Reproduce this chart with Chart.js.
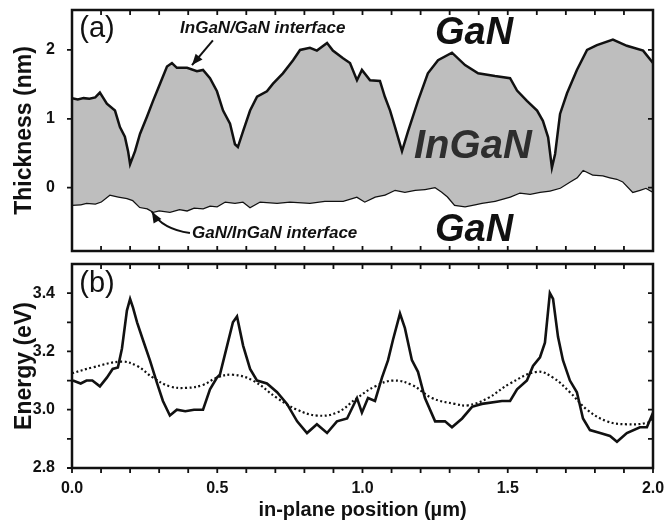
<!DOCTYPE html>
<html>
<head>
<meta charset="utf-8">
<script src="https://cdn.jsdelivr.net/npm/chart.js@4.4.1/dist/chart.umd.min.js"></script>
<style>
  html, body { margin: 0; padding: 0; background: #fff; }
  #wrap { position: relative; width: 668px; height: 522px; }
  #chartA { position: absolute; left: 0; top: 0; }
  #chartB { position: absolute; left: 0; top: 258px; }
</style>
</head>
<body>
<div id="wrap">
  <canvas id="chartA" width="668" height="258"></canvas>
  <canvas id="chartB" width="668" height="264"></canvas>
</div>
<script>
// Panel (a): InGaN/GaN (upper) interface, position in µm / thickness in nm
const upperX = [0.00, 0.02, 0.04, 0.06, 0.08, 0.096, 0.12, 0.148, 0.165, 0.182, 0.193, 0.200, 0.217, 0.234, 0.258, 0.279, 0.303, 0.327, 0.344, 0.361, 0.396, 0.430, 0.451, 0.475, 0.499, 0.520, 0.544, 0.561, 0.571, 0.589, 0.613, 0.637, 0.671, 0.692, 0.726, 0.761, 0.785, 0.819, 0.843, 0.878, 0.898, 0.933, 0.957, 0.981, 0.998, 1.026, 1.060, 1.077, 1.095, 1.112, 1.136, 1.157, 1.191, 1.225, 1.260, 1.308, 1.353, 1.398, 1.456, 1.508, 1.532, 1.566, 1.601, 1.621, 1.639, 1.652, 1.663, 1.680, 1.704, 1.738, 1.773, 1.807, 1.862, 1.910, 1.966, 2.000];
const upperY = [1.30, 1.28, 1.30, 1.29, 1.31, 1.38, 1.22, 1.12, 0.88, 0.74, 0.53, 0.34, 0.53, 0.78, 1.03, 1.26, 1.51, 1.76, 1.81, 1.74, 1.74, 1.69, 1.71, 1.59, 1.40, 1.12, 0.93, 0.63, 0.59, 0.82, 1.12, 1.32, 1.40, 1.51, 1.66, 1.85, 2.00, 2.03, 1.99, 2.10, 1.99, 1.88, 1.81, 1.56, 1.71, 1.56, 1.55, 1.32, 1.12, 0.88, 0.53, 0.82, 1.26, 1.66, 1.85, 1.96, 1.78, 1.66, 1.62, 1.59, 1.41, 1.26, 1.12, 0.97, 0.73, 0.29, 0.49, 1.07, 1.37, 1.71, 2.00, 2.07, 2.15, 2.06, 1.99, 1.81];

// Panel (a): GaN/InGaN (lower) interface
const lowerX = [0.00, 0.03, 0.05, 0.08, 0.10, 0.13, 0.16, 0.19, 0.21, 0.234, 0.26, 0.28, 0.30, 0.337, 0.37, 0.396, 0.42, 0.451, 0.475, 0.499, 0.527, 0.561, 0.589, 0.613, 0.647, 0.706, 0.75, 0.819, 0.87, 0.933, 0.981, 1.008, 1.043, 1.077, 1.112, 1.146, 1.181, 1.215, 1.250, 1.274, 1.294, 1.318, 1.353, 1.387, 1.411, 1.456, 1.508, 1.542, 1.577, 1.611, 1.645, 1.680, 1.714, 1.738, 1.759, 1.793, 1.828, 1.852, 1.876, 1.897, 1.931, 1.955, 1.976, 2.000];
const lowerY = [-0.25, -0.24, -0.22, -0.23, -0.20, -0.10, -0.13, -0.15, -0.18, -0.28, -0.30, -0.35, -0.33, -0.35, -0.31, -0.33, -0.29, -0.30, -0.26, -0.27, -0.20, -0.22, -0.20, -0.28, -0.20, -0.22, -0.20, -0.22, -0.19, -0.19, -0.13, -0.20, -0.13, -0.10, -0.03, -0.06, -0.03, -0.02, 0.01, -0.06, -0.13, -0.25, -0.27, -0.24, -0.22, -0.19, -0.13, -0.07, -0.09, -0.06, -0.04, 0.00, 0.09, 0.15, 0.26, 0.19, 0.18, 0.15, 0.13, 0.09, -0.06, -0.03, 0.00, -0.06];

// Panel (b): measured emission energy (solid) in eV
const energyX = [0.003, 0.03, 0.05, 0.07, 0.096, 0.12, 0.14, 0.158, 0.172, 0.189, 0.200, 0.21, 0.224, 0.244, 0.268, 0.293, 0.313, 0.337, 0.361, 0.39, 0.42, 0.451, 0.475, 0.499, 0.509, 0.534, 0.554, 0.568, 0.589, 0.613, 0.637, 0.671, 0.706, 0.740, 0.775, 0.809, 0.843, 0.878, 0.912, 0.947, 0.981, 0.998, 1.019, 1.043, 1.067, 1.088, 1.105, 1.129, 1.146, 1.170, 1.191, 1.215, 1.250, 1.284, 1.308, 1.343, 1.377, 1.411, 1.480, 1.508, 1.532, 1.566, 1.587, 1.611, 1.628, 1.645, 1.656, 1.673, 1.690, 1.714, 1.738, 1.759, 1.783, 1.818, 1.852, 1.876, 1.910, 1.955, 1.979, 2.000];
const energyY = [3.10, 3.09, 3.10, 3.10, 3.08, 3.11, 3.14, 3.145, 3.21, 3.34, 3.38, 3.35, 3.30, 3.24, 3.17, 3.09, 3.03, 2.98, 3.00, 2.995, 3.00, 3.00, 3.07, 3.11, 3.12, 3.22, 3.30, 3.32, 3.22, 3.14, 3.10, 3.09, 3.06, 3.02, 2.96, 2.92, 2.95, 2.92, 2.96, 2.97, 3.04, 2.99, 3.04, 3.03, 3.11, 3.17, 3.24, 3.33, 3.28, 3.17, 3.13, 3.04, 2.96, 2.96, 2.94, 2.97, 3.01, 3.02, 3.03, 3.03, 3.07, 3.10, 3.15, 3.18, 3.23, 3.40, 3.38, 3.25, 3.17, 3.10, 3.06, 2.97, 2.93, 2.92, 2.91, 2.89, 2.92, 2.94, 2.94, 2.99];

// Panel (b): calculated energy (dotted)
const fitX = [0.00, 0.07, 0.17, 0.224, 0.279, 0.337, 0.396, 0.451, 0.499, 0.554, 0.623, 0.706, 0.775, 0.843, 0.912, 0.981, 1.043, 1.105, 1.170, 1.239, 1.318, 1.363, 1.432, 1.508, 1.601, 1.656, 1.714, 1.773, 1.842, 1.910, 1.979, 2.000];
const fitY = [3.125, 3.145, 3.165, 3.15, 3.11, 3.08, 3.075, 3.085, 3.11, 3.12, 3.10, 3.04, 3.00, 2.98, 2.99, 3.04, 3.08, 3.10, 3.085, 3.04, 3.02, 3.015, 3.04, 3.09, 3.13, 3.11, 3.06, 3.00, 2.96, 2.95, 2.955, 2.97];

// Tick positions
const xLabelTicks = [0, 0.5, 1.0, 1.5, 2.0];
const xMinorTicks = [0, 0.1, 0.2, 0.3, 0.4, 0.5, 0.6, 0.7, 0.8, 0.9, 1.0, 1.1, 1.2, 1.3, 1.4, 1.5, 1.6, 1.7, 1.8, 1.9, 2.0];
const thickTicks = [0, 1, 2];
const energyTicks = [2.8, 3.0, 3.2, 3.4];
const energyMinorTicks = [2.8, 2.9, 3.0, 3.1, 3.2, 3.3, 3.4];

const FONT = '"Liberation Sans", Arial, sans-serif';
const INK = '#111';
const pts = (xs, ys) => xs.map((x, i) => ({ x: x, y: ys[i] }));

// no label overhang padding, chart area is set by layout padding only
function fixWidth(w) {
    return s => { s.width = w; s.paddingTop = 0; s.paddingBottom = 0; };
}
function fixHeight(h) {
    return s => { s.height = h; s.paddingLeft = 0; s.paddingRight = 0; };
}

// Box frame with tick marks drawn from the chart's scales
const framePlugin = {
    id: 'frame',
    afterDatasetsDraw(chart, args, o) {
        const { ctx, chartArea: a } = chart;
        const xs = chart.scales.x, ys = chart.scales.y;
        const L = 5;
        ctx.save();
        ctx.strokeStyle = INK;
        ctx.lineWidth = 1.8;
        ctx.beginPath();
        o.xTicks.forEach(v => {
            const p = xs.getPixelForValue(v);
            ctx.moveTo(p, a.top); ctx.lineTo(p, a.top + L);
            ctx.moveTo(p, a.bottom); ctx.lineTo(p, o.bottomOut ? a.bottom + L : a.bottom - L);
        });
        o.yTicks.forEach(v => {
            const p = ys.getPixelForValue(v);
            ctx.moveTo(a.left, p); ctx.lineTo(a.left - L, p);
            ctx.moveTo(a.right, p); ctx.lineTo(a.right - L, p);
        });
        ctx.stroke();
        ctx.lineWidth = 2.5;
        ctx.strokeRect(a.left, a.top, a.right - a.left, a.bottom - a.top);
        ctx.restore();
    }
};

function arrowHead(ctx, from, tip) {
    const ang = Math.atan2(tip[1] - from[1], tip[0] - from[0]);
    const len = 11, half = 4.5;
    ctx.beginPath();
    ctx.moveTo(tip[0], tip[1]);
    ctx.lineTo(tip[0] - len * Math.cos(ang) + half * Math.sin(ang), tip[1] - len * Math.sin(ang) - half * Math.cos(ang));
    ctx.lineTo(tip[0] - len * Math.cos(ang) - half * Math.sin(ang), tip[1] - len * Math.sin(ang) + half * Math.cos(ang));
    ctx.closePath();
    ctx.fill();
}

// Labels and arrows of panel (a), placed in data coordinates
const notesA = {
    id: 'notesA',
    afterDatasetsDraw(chart) {
        const { ctx } = chart;
        const x = chart.scales.x, y = chart.scales.y;
        const P = (u, v) => [x.getPixelForValue(u), y.getPixelForValue(v)];
        ctx.save();
        ctx.fillStyle = INK;
        ctx.strokeStyle = INK;
        ctx.textBaseline = 'middle';
        ctx.textAlign = 'center';
        ctx.font = '29px ' + FONT;
        ctx.fillText('(a)', ...P(0.086, 2.31));
        ctx.font = 'italic bold 38px ' + FONT;
        ctx.fillText('GaN', ...P(1.384, 2.24));
        ctx.fillText('GaN', ...P(1.384, -0.62));
        ctx.fillStyle = '#2e2e2e';
        ctx.font = 'italic bold 40px ' + FONT;
        ctx.fillText('InGaN', ...P(1.38, 0.59));
        ctx.fillStyle = INK;
        ctx.textAlign = 'left';
        ctx.font = 'italic bold 17px ' + FONT;
        ctx.fillText('InGaN/GaN interface', ...P(0.372, 2.32));
        ctx.fillText('GaN/InGaN interface', ...P(0.413, -0.66));

        ctx.lineWidth = 2;
        // arrow to upper interface
        const a0 = P(0.485, 2.14), a1 = P(0.413, 1.78);
        ctx.beginPath();
        ctx.moveTo(a0[0], a0[1]);
        ctx.lineTo(a1[0], a1[1]);
        ctx.stroke();
        arrowHead(ctx, a0, a1);
        // arrow to lower interface
        const b0 = P(0.406, -0.66), bc = P(0.31, -0.60), b1 = P(0.275, -0.35);
        ctx.beginPath();
        ctx.moveTo(b0[0], b0[1]);
        ctx.quadraticCurveTo(bc[0], bc[1], b1[0], b1[1]);
        ctx.stroke();
        arrowHead(ctx, bc, b1);
        ctx.restore();
    }
};

const notesB = {
    id: 'notesB',
    afterDatasetsDraw(chart) {
        const { ctx } = chart;
        const x = chart.scales.x, y = chart.scales.y;
        ctx.save();
        ctx.fillStyle = INK;
        ctx.textBaseline = 'middle';
        ctx.textAlign = 'center';
        ctx.font = '29px ' + FONT;
        ctx.fillText('(b)', x.getPixelForValue(0.086), y.getPixelForValue(3.43));
        ctx.restore();
    }
};

const tickFont = { family: FONT, size: 16, weight: 'bold' };
const titleFont = { family: FONT, size: 23, weight: 'bold' };

// Panel (a) chart
new Chart(document.getElementById('chartA'), {
    type: 'line',
    data: {
        datasets: [{
            data: pts(upperX, upperY),
            borderColor: INK,
            borderWidth: 2.5,
            backgroundColor: '#bebebe',
            fill: '+1',
            pointRadius: 0,
            tension: 0
        }, {
            data: pts(lowerX, lowerY),
            borderColor: INK,
            borderWidth: 2.5,
            fill: false,
            pointRadius: 0,
            tension: 0
        }]
    },
    options: {
        responsive: false,
        animation: false,
        events: [],
        layout: { padding: { top: 10, right: 15, bottom: 7, left: 0 } },
        plugins: {
            legend: { display: false },
            tooltip: { enabled: false },
            frame: { xTicks: xMinorTicks, yTicks: thickTicks, bottomOut: false }
        },
        scales: {
            x: { type: 'linear', min: 0, max: 2, display: false },
            y: {
                min: -0.92,
                max: 2.58,
                afterBuildTicks: s => { s.ticks = thickTicks.map(v => ({ value: v })); },
                afterFit: fixWidth(72),
                grid: { display: false },
                border: { display: false },
                ticks: { font: tickFont, color: INK, padding: 9, callback: v => v.toFixed(0) },
                title: { display: true, text: 'Thickness (nm)', font: titleFont, color: INK, padding: { top: 11 } }
            }
        }
    },
    plugins: [framePlugin, notesA]
});

// Panel (b) chart
new Chart(document.getElementById('chartB'), {
    type: 'line',
    data: {
        datasets: [{
            data: pts(energyX, energyY),
            borderColor: INK,
            borderWidth: 2.6,
            fill: false,
            pointRadius: 0,
            tension: 0
        }, {
            data: pts(fitX, fitY),
            borderColor: INK,
            borderWidth: 2.2,
            borderDash: [2, 2.5],
            fill: false,
            pointRadius: 0,
            tension: 0.4
        }]
    },
    options: {
        responsive: false,
        animation: false,
        events: [],
        layout: { padding: { top: 6, right: 15, bottom: 0, left: 0 } },
        plugins: {
            legend: { display: false },
            tooltip: { enabled: false },
            frame: { xTicks: xMinorTicks, yTicks: energyMinorTicks, bottomOut: true }
        },
        scales: {
            x: {
                type: 'linear',
                min: 0,
                max: 2,
                afterBuildTicks: s => { s.ticks = xLabelTicks.map(v => ({ value: v })); },
                afterFit: fixHeight(54),
                grid: { display: false },
                border: { display: false },
                ticks: { font: tickFont, color: INK, padding: 3, maxRotation: 0, callback: v => v.toFixed(1) },
                title: { display: true, text: 'in-plane position (µm)', font: { family: FONT, size: 20, weight: 'bold' }, color: INK, padding: { top: 0, bottom: 0 } }
            },
            y: {
                min: 2.8,
                max: 3.5,
                afterBuildTicks: s => { s.ticks = energyTicks.map(v => ({ value: v })); },
                afterFit: fixWidth(72),
                grid: { display: false },
                border: { display: false },
                ticks: { font: tickFont, color: INK, padding: 9, callback: v => v.toFixed(1) },
                title: { display: true, text: 'Energy (eV)', font: titleFont, color: INK, padding: { top: 11 } }
            }
        }
    },
    plugins: [framePlugin, notesB]
});
</script>
</body>
</html>
